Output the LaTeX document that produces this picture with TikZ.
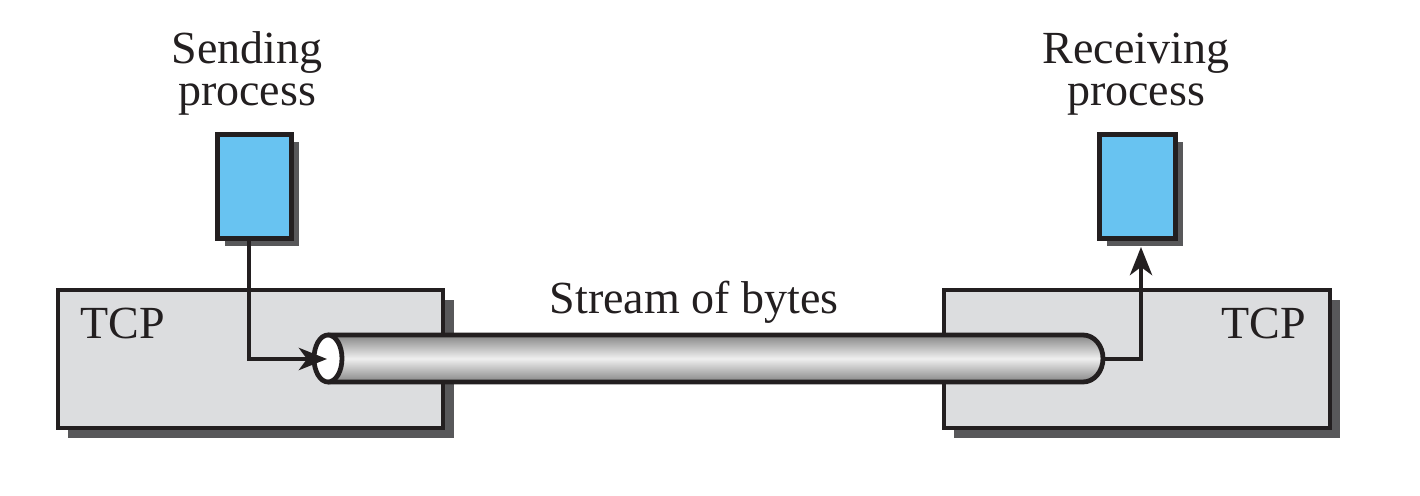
\documentclass[tikz,border=0pt]{standalone}
\usepackage{fontspec}
\setmainfont{Liberation Serif}
\usetikzlibrary{arrows.meta}
\definecolor{procblue}{HTML}{68C3F1}
\definecolor{tcpgray}{HTML}{DCDDDF}
\definecolor{shadowgray}{HTML}{58585A}
\definecolor{edgeblack}{HTML}{231F20}
\tikzset{
  lbl/.style={font=\fontsize{23}{21}\selectfont, text=edgeblack, align=center, inner sep=0pt},
  outl/.style={draw=edgeblack, line width=2.4pt},
  conn/.style={draw=edgeblack, line width=2.4pt, -{Stealth[length=14pt, width=11pt, inset=4pt]}},
}
\begin{document}
\begin{tikzpicture}[x=0.5pt, y=-0.5pt]
\useasboundingbox (0,0) rectangle (1420,496);
% TCP boxes
\fill[shadowgray] (68,300) rectangle (454,438);
\path[outl, fill=tcpgray] (58,290) rectangle (443,428);
\fill[shadowgray] (954,300) rectangle (1340,438);
\path[outl, fill=tcpgray] (944,290) rectangle (1330,428);
% process boxes
\fill[shadowgray] (225,142) rectangle (299,246);
\node[outl, fill=procblue, minimum width=37pt, minimum height=52pt, inner sep=0pt, anchor=north west] (send) at (215,132) {};
\fill[shadowgray] (1107,142) rectangle (1183,246);
\node[outl, fill=procblue, minimum width=38pt, minimum height=52pt, inner sep=0pt, anchor=north west] (recv) at (1097,132) {};
% labels
\node[lbl, anchor=base] (sendlbl) at (247,106) {Sending\\process};
\node[lbl, anchor=base] (recvlbl) at (1136,106) {Receiving\\process};
\node[lbl, anchor=base west] (tcp1) at (80,339) {TCP};
\node[lbl, anchor=base east] (tcp2) at (1306,339) {TCP};
\node[lbl, anchor=base] (stream) at (694,314) {Stream of bytes};
% cylinder
\shade[top color=gray!95, bottom color=gray!95, middle color=gray!12]
  (328,335) -- (1083,335) arc[start angle=90, end angle=-90, x radius=10pt, y radius=11.75pt] -- (328,382) -- cycle;
\draw[outl] (328,335) -- (1083,335) arc[start angle=90, end angle=-90, x radius=10pt, y radius=11.75pt] -- (328,382);
\draw[outl, fill=white] (328,358.5) ellipse[x radius=7pt, y radius=11.75pt];
\coordinate (inL) at (327,359);
\coordinate (outR) at (1103,359);
\coordinate (upR) at (1141,247);
% connectors
\draw[conn] (send.south -| 249,0) |- (inL);
\draw[conn] (outR) -| (upR);
\end{tikzpicture}
\end{document}
